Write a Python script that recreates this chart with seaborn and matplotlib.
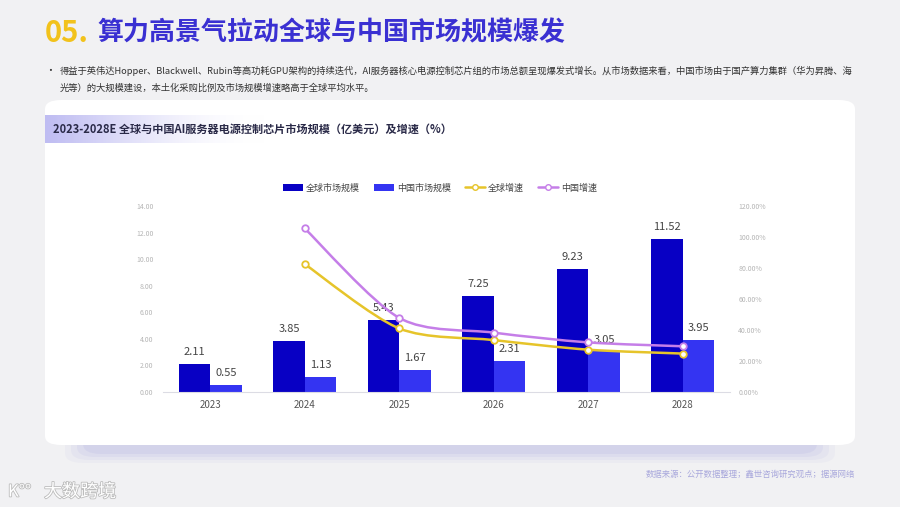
import numpy as np
import pandas as pd
import matplotlib
matplotlib.use("Agg")
import matplotlib.pyplot as plt
import seaborn as sns
from matplotlib.patches import FancyBboxPatch, Patch, PathPatch
from matplotlib.lines import Line2D
from matplotlib.path import Path
import matplotlib.patheffects as pe

# ---------------- data ----------------
years = ["2023", "2024", "2025", "2026", "2027", "2028"]
global_size = [2.11, 3.85, 5.43, 7.25, 9.23, 11.52]
china_size = [0.55, 1.13, 1.67, 2.31, 3.05, 3.95]
growth_years = ["2024", "2025", "2026", "2027", "2028"]
global_growth = [82.5, 41.0, 33.5, 27.3, 24.8]
china_growth = [105.5, 47.8, 38.3, 32.0, 29.5]
series_names = ["全球市场规模", "中国市场规模", "全球增速", "中国增速"]
left_ticks = [0, 2, 4, 6, 8, 10, 12, 14]
right_ticks = [0, 20, 40, 60, 80, 100, 120]

title_num = "05."
title_text = "算力高景气拉动全球与中国市场规模爆发"
bullet_lines = [
    "得益于英伟达Hopper、Blackwell、Rubin等高功耗GPU架构的持续迭代，AI服务器核心电源控制芯片组的市场总额呈现爆发式增长。从市场数据来看，中国市场由于国产算力集群（华为昇腾、海",
    "光等）的大规模建设，本土化采购比例及市场规模增速略高于全球平均水平。",
]
chart_title = "2023-2028E 全球与中国AI服务器电源控制芯片市场规模（亿美元）及增速（%）"
source_text = "数据来源：公开数据整理；鑫世咨询研究观点；据源网络"
watermark = "大数跨境"

# ---------------- style ----------------
sns.set_theme(style="white")
plt.rcParams["font.family"] = ["Noto Sans CJK SC", "DejaVu Sans"]
plt.rcParams["axes.unicode_minus"] = False

C_GLOBAL = "#0800c4"
C_CHINA = "#3434f2"
C_YEL = "#e6c42a"
C_PUR = "#c57ee8"

W, H = 900, 507
fig = plt.figure(figsize=(9, 5.07), dpi=100, facecolor="#f1f1f3")

def fx(px):
    return px / W

def fy(py):
    return 1 - py / H

# shadow under card
for i, a in enumerate([0.06, 0.08, 0.10, 0.12]):
    inset = 20 + i * 6
    fig.patches.append(FancyBboxPatch(
        (fx(45 + inset), fy(463 - i * 3)), fx(810 - 2 * inset), (463 - i * 3 - 300) / H,
        boxstyle="round,pad=0,rounding_size=0.02", transform=fig.transFigure,
        facecolor="#9a98dc", edgecolor="none", alpha=a, zorder=-3))
# white card
fig.patches.append(FancyBboxPatch(
    (fx(45), fy(445)), fx(810), (445 - 100) / H,
    boxstyle="round,pad=0,rounding_size=0.018", transform=fig.transFigure,
    facecolor="white", edgecolor="none", zorder=-2))

# header gradient band
axh = fig.add_axes([fx(45), fy(143), fx(220), 28 / H])
grad = np.zeros((1, 256, 4))
c0 = np.array([0.75, 0.74, 0.95])
t = np.linspace(0, 1, 256)
grad[0, :, :3] = c0 * (1 - t[:, None]) + np.array([1, 1, 1]) * t[:, None]
grad[0, :, 3] = 1.0 - t ** 1.5
axh.imshow(grad, aspect="auto", extent=[0, 1, 0, 1])
axh.axis("off")

# texts
fig.text(fx(45), fy(33), title_num, color="#f2c21b", fontsize=21, fontweight="bold", va="center", ha="left")
fig.text(fx(97), fy(33), title_text, color="#3a30d2", fontsize=18.7, fontweight="bold", va="center", ha="left")
fig.text(fx(45), fy(71), "•", color="#333333", fontsize=7, va="center", ha="left")
fig.text(fx(60), fy(71), bullet_lines[0], color="#333333", fontsize=6.7, va="center", ha="left")
fig.text(fx(60), fy(88), bullet_lines[1], color="#333333", fontsize=6.7, va="center", ha="left")
fig.text(fx(53), fy(129), chart_title, color="#2a2a48", fontsize=8.0, fontweight="bold", va="center", ha="left")
fig.text(fx(855), fy(474), source_text, color="#a9a8dc", fontsize=6, va="center", ha="right")
fig.text(fx(44), fy(492), watermark, color="white", fontsize=13, va="center", ha="left",
         path_effects=[pe.withStroke(linewidth=1.2, foreground="#bcbcbc")])
fig.text(fx(8), fy(492), "K°°", color="white", fontsize=12, va="center", ha="left",
         path_effects=[pe.withStroke(linewidth=1.2, foreground="#bcbcbc")])

# ---------------- chart ----------------
ax = fig.add_axes([fx(163), fy(392), fx(730 - 163), (392 - 206) / H])
ax.set_facecolor("none")
df = pd.DataFrame({
    "year": years * 2,
    "value": global_size + china_size,
    "series": [series_names[0]] * len(years) + [series_names[1]] * len(years),
})
sns.barplot(data=df, x="year", y="value", hue="series", order=years,
            hue_order=series_names[:2], palette=[C_GLOBAL, C_CHINA],
            width=0.67, saturation=1, ax=ax, legend=False, zorder=2,
            linewidth=0, edgecolor="none")
for cont in ax.containers:
    ax.bar_label(cont, labels=[f"{v:.2f}" for v in cont.datavalues],
                 padding=5, fontsize=8, color="#444444")
ax.set_ylim(0, 14)
ax.set_xlim(-0.5, len(years) - 0.5)
ax.set_yticks(left_ticks)
ax.set_yticklabels([f"{v:.2f}" for v in left_ticks])
ax.tick_params(axis="y", length=0, pad=7, labelsize=5, labelcolor="#b5b5b5")
ax.tick_params(axis="x", length=0, pad=6, labelsize=7, labelcolor="#555555")
ax.set_xlabel("")
ax.set_ylabel("")
for s in ["top", "left", "right"]:
    ax.spines[s].set_visible(False)
ax.spines["bottom"].set_color("#dcdce4")
ax.spines["bottom"].set_linewidth(0.8)
ax.grid(False)

ax2 = ax.twinx()
ax2.set_ylim(0, 120)
ax2.set_yticks(right_ticks)
ax2.set_yticklabels([f"{v:.2f}%" for v in right_ticks])
ax2.tick_params(axis="y", length=0, pad=6, labelsize=5, labelcolor="#b5b5b5")
for s in ["top", "left", "right", "bottom"]:
    ax2.spines[s].set_visible(False)
ax2.grid(False)

gx = [years.index(y) for y in growth_years]

def smooth_path(xs, ys, k=7.0):
    pts = np.column_stack([xs, ys]).astype(float)
    n = len(pts)
    verts = [pts[0]]
    codes = [Path.MOVETO]
    for i in range(n - 1):
        p0 = pts[max(i - 1, 0)]
        p1 = pts[i]
        p2 = pts[i + 1]
        p3 = pts[min(i + 2, n - 1)]
        c1 = p1 + (p2 - p0) / k
        c2 = p2 - (p3 - p1) / k
        verts += [c1, c2, p2]
        codes += [Path.CURVE4] * 3
    return Path(verts, codes)

for vals, col in [(global_growth, C_YEL), (china_growth, C_PUR)]:
    ax2.add_patch(PathPatch(smooth_path(gx, vals), facecolor="none", edgecolor=col,
                            linewidth=1.8, zorder=3, transform=ax2.transData))
    sns.scatterplot(x=gx, y=vals, ax=ax2, s=22, color="white", edgecolor=col,
                    linewidth=1.3, zorder=4, legend=False)
ax2.set_xlim(-0.5, len(years) - 0.5)

handles = [
    Patch(facecolor=C_GLOBAL, edgecolor="none"),
    Patch(facecolor=C_CHINA, edgecolor="none"),
    Line2D([0], [0], color=C_YEL, lw=1.8, marker="o", markersize=4,
           markerfacecolor="white", markeredgecolor=C_YEL),
    Line2D([0], [0], color=C_PUR, lw=1.8, marker="o", markersize=4,
           markerfacecolor="white", markeredgecolor=C_PUR),
]
fig.legend(handles, series_names, loc="center", bbox_to_anchor=(fx(440), fy(188)),
           ncol=4, frameon=False, fontsize=6.5, handlelength=2.2, handleheight=0.7,
           columnspacing=1.6, handletextpad=0.3, labelcolor="#444444")

fig.savefig("out.png", dpi=100, facecolor=fig.get_facecolor())
